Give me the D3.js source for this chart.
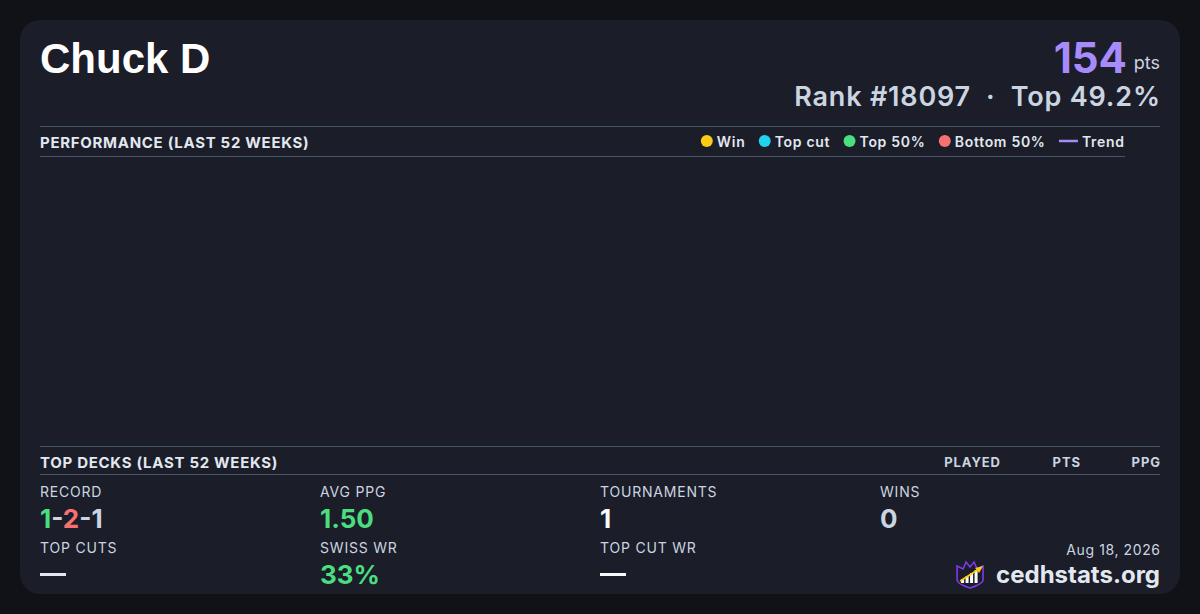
<!DOCTYPE html>
<html lang="en">
<head>
<meta charset="utf-8">
<title>Chuck D</title>
<script src="https://cdn.jsdelivr.net/npm/d3@7"></script>
<style>
  html, body { margin: 0; padding: 0; background: #111218; }
  svg { display: block; }
  svg text { font-family: Inter, "Noto Sans", sans-serif; }
</style>
</head>
<body>
<script>
// player header
var playerName = "Chuck D";
var points = 154;
var rankText = "Rank #18097  \u00b7  Top 49.2%";

// legend of the performance chart
var legendNames = ["Win", "Top cut", "Top 50%", "Bottom 50%", "Trend"];
var legendColors = ["#facc15", "#22d3ee", "#4ade80", "#f87171", "#a78bfa"];

// weekly results (none in the last 52 weeks)
var weekResults = [];
var deckColumns = ["PLAYED", "PTS", "PPG"];

// stat grid
var statLabels = ["RECORD", "AVG PPG", "TOURNAMENTS", "WINS", "TOP CUTS", "SWISS WR", "TOP CUT WR"];
var statValues = ["1-2-1", "1.50", "1", "0", "\u2014", "33%", "\u2014"];
var statColors = [null, "#4ade80", "#f8fafc", "#cbd5e1", "#e2e8f0", "#4ade80", "#f8fafc"];
var recordParts = ["1", "-", "2", "-1"];
var recordColors = ["#4ade80", "#cbd5e1", "#f87171", "#cbd5e1"];

var dateText = "Aug 18, 2026";
var siteText = "cedhstats.org";

var W = 1200, H = 614;
var svg = d3.select("body").append("svg").attr("width", W).attr("height", H);

// card
svg.append("rect").attr("x", 20).attr("y", 20).attr("width", 1160).attr("height", 574)
  .attr("rx", 20).attr("fill", "#1b1d28");

// title
svg.append("text").attr("x", 40).attr("y", 73).text(playerName)
  .style("font-family", "'Liberation Sans', Arial, sans-serif")
  .attr("font-size", 42).attr("font-weight", "bold").attr("fill", "#ffffff");

svg.append("text").attr("x", 1160).attr("y", 69).attr("text-anchor", "end")
  .attr("font-size", 18).attr("fill", "#cbd5e1").text("pts");
svg.append("text").attr("x", 1127).attr("y", 73).attr("text-anchor", "end")
  .attr("font-size", 42).attr("font-weight", 700).attr("fill", "#a78bfa").text(points);
svg.append("text").attr("x", 1160.8).attr("y", 106).attr("text-anchor", "end")
  .attr("font-size", 27).attr("font-weight", 600).attr("fill", "#cbd5e1")
  .attr("letter-spacing", 0.8)
  .style("white-space", "pre").text(rankText);

// section rules
var ruleColor = "#475569";
function rule(y, x2) {
  svg.append("line").attr("x1", 40).attr("x2", x2).attr("y1", y).attr("y2", y)
    .attr("stroke", ruleColor).attr("stroke-width", 1);
}
rule(126.5, 1160);
rule(156.5, 1125);
rule(446.5, 1160);
rule(474.5, 1160);

svg.append("text").attr("x", 40).attr("y", 148).attr("font-size", 15)
  .attr("font-weight", 700).attr("fill", "#e2e8f0").attr("letter-spacing", 0.7)
  .text("PERFORMANCE (LAST 52 WEEKS)");

// legend, laid out right to left
var legend = svg.append("g").attr("class", "legend");
var lx = 1124;
for (var i = legendNames.length - 1; i >= 0; i--) {
  var t = legend.append("text").attr("y", 146.5).attr("font-size", 14)
    .attr("font-weight", 600).attr("fill", "#e2e8f0").attr("letter-spacing", 0.7)
    .attr("x", lx).text(legendNames[i]);
  var w = t.node().getComputedTextLength() - 0.7;
  t.attr("x", lx - w);
  var sx = lx - w - 4;
  if (legendNames[i] === "Trend") {
    legend.append("line").attr("x1", sx - 19).attr("x2", sx).attr("y1", 141).attr("y2", 141)
      .attr("stroke", legendColors[i]).attr("stroke-width", 2.5);
    lx = sx - 19 - 14;
  } else {
    legend.append("circle").attr("cx", sx - 6).attr("cy", 141).attr("r", 6)
      .attr("fill", legendColors[i]);
    lx = sx - 12 - 14;
  }
}

// performance plot area (empty)
var x = d3.scaleLinear().domain([0, 52]).range([40, 1125]);
var y = d3.scaleLinear().domain([0, 4]).range([440, 165]);
svg.append("g").selectAll("circle").data(weekResults).enter().append("circle")
  .attr("cx", function(d) { return x(d.week); })
  .attr("cy", function(d) { return y(d.ppg); })
  .attr("r", 5)
  .attr("fill", function(d) { return legendColors[d.kind]; });

// top decks header
svg.append("text").attr("x", 40).attr("y", 468).attr("font-size", 15)
  .attr("font-weight", 700).attr("fill", "#e2e8f0").attr("letter-spacing", 0.7)
  .text("TOP DECKS (LAST 52 WEEKS)");
var colX = d3.scalePoint().domain(deckColumns).range([1000.9, 1160.9]);
svg.append("g").selectAll("text").data(deckColumns).enter().append("text")
  .attr("x", function(d) { return colX(d); }).attr("y", 467)
  .attr("text-anchor", "end").attr("font-size", 13).attr("font-weight", 700)
  .attr("letter-spacing", 0.9)
  .attr("fill", "#cbd5e1").text(function(d) { return d; });

// stat grid
var gx = [40, 320, 600, 880];
var stats = svg.append("g");
statLabels.forEach(function(lab, i) {
  var col = i % 4, row = Math.floor(i / 4);
  var bx = gx[col], by = row === 0 ? 497 : 553;
  stats.append("text").attr("x", bx).attr("y", by).attr("font-size", 14)
    .attr("letter-spacing", 0.8).attr("fill", "#cbd5e1").text(lab);
  var v = stats.append("text").attr("x", bx).attr("y", by + 31)
    .attr("font-size", 26).attr("font-weight", 700);
  if (lab === "RECORD") {
    v.selectAll("tspan").data(recordParts).enter().append("tspan")
      .attr("fill", function(d, j) { return recordColors[j]; })
      .text(function(d) { return d; });
  } else if (statValues[i] === "\u2014") {
    stats.append("rect").attr("x", bx).attr("y", by + 20).attr("width", 26).attr("height", 3)
      .attr("fill", statColors[i]);
    v.remove();
  } else {
    v.attr("fill", statColors[i]).text(statValues[i]);
  }
});

// footer
svg.append("text").attr("x", 1160.6).attr("y", 555).attr("text-anchor", "end")
  .attr("font-size", 14).attr("letter-spacing", 0.6).attr("fill", "#cbd5e1").text(dateText);
var site = svg.append("text").attr("x", 1160).attr("y", 583).attr("text-anchor", "end")
  .attr("font-size", 24).attr("font-weight", 700).attr("fill", "#e2e8f0").text(siteText);
var sw = site.node().getComputedTextLength();

// logo: shield with bars and arrow
var logo = svg.append("g").attr("transform", "translate(" + (1160 - sw - 12 - 28) + ",560)");
logo.append("path")
  .attr("d", "M1,6 L7,9 L10,2 L14,7 L18,2 L21,9 L27,6 L27,20 Q27,24 14,28 Q1,24 1,20 Z")
  .attr("fill", "#1b1d28").attr("stroke", "#7c3aed").attr("stroke-width", 1.6);
var bars = [4, 7, 10, 13];
logo.selectAll("rect.bar").data(bars).enter().append("rect")
  .attr("x", function(d, j) { return 5 + j * 4.5; })
  .attr("y", function(d) { return 23 - d; })
  .attr("width", 3).attr("height", function(d) { return d; })
  .attr("fill", "#ffffff");
logo.append("line").attr("x1", 4).attr("y1", 21).attr("x2", 23).attr("y2", 9)
  .attr("stroke", "#facc15").attr("stroke-width", 1.8);
logo.append("path").attr("d", "M27,6 L19,8 L23,13 Z").attr("fill", "#facc15");
</script>
</body>
</html>
